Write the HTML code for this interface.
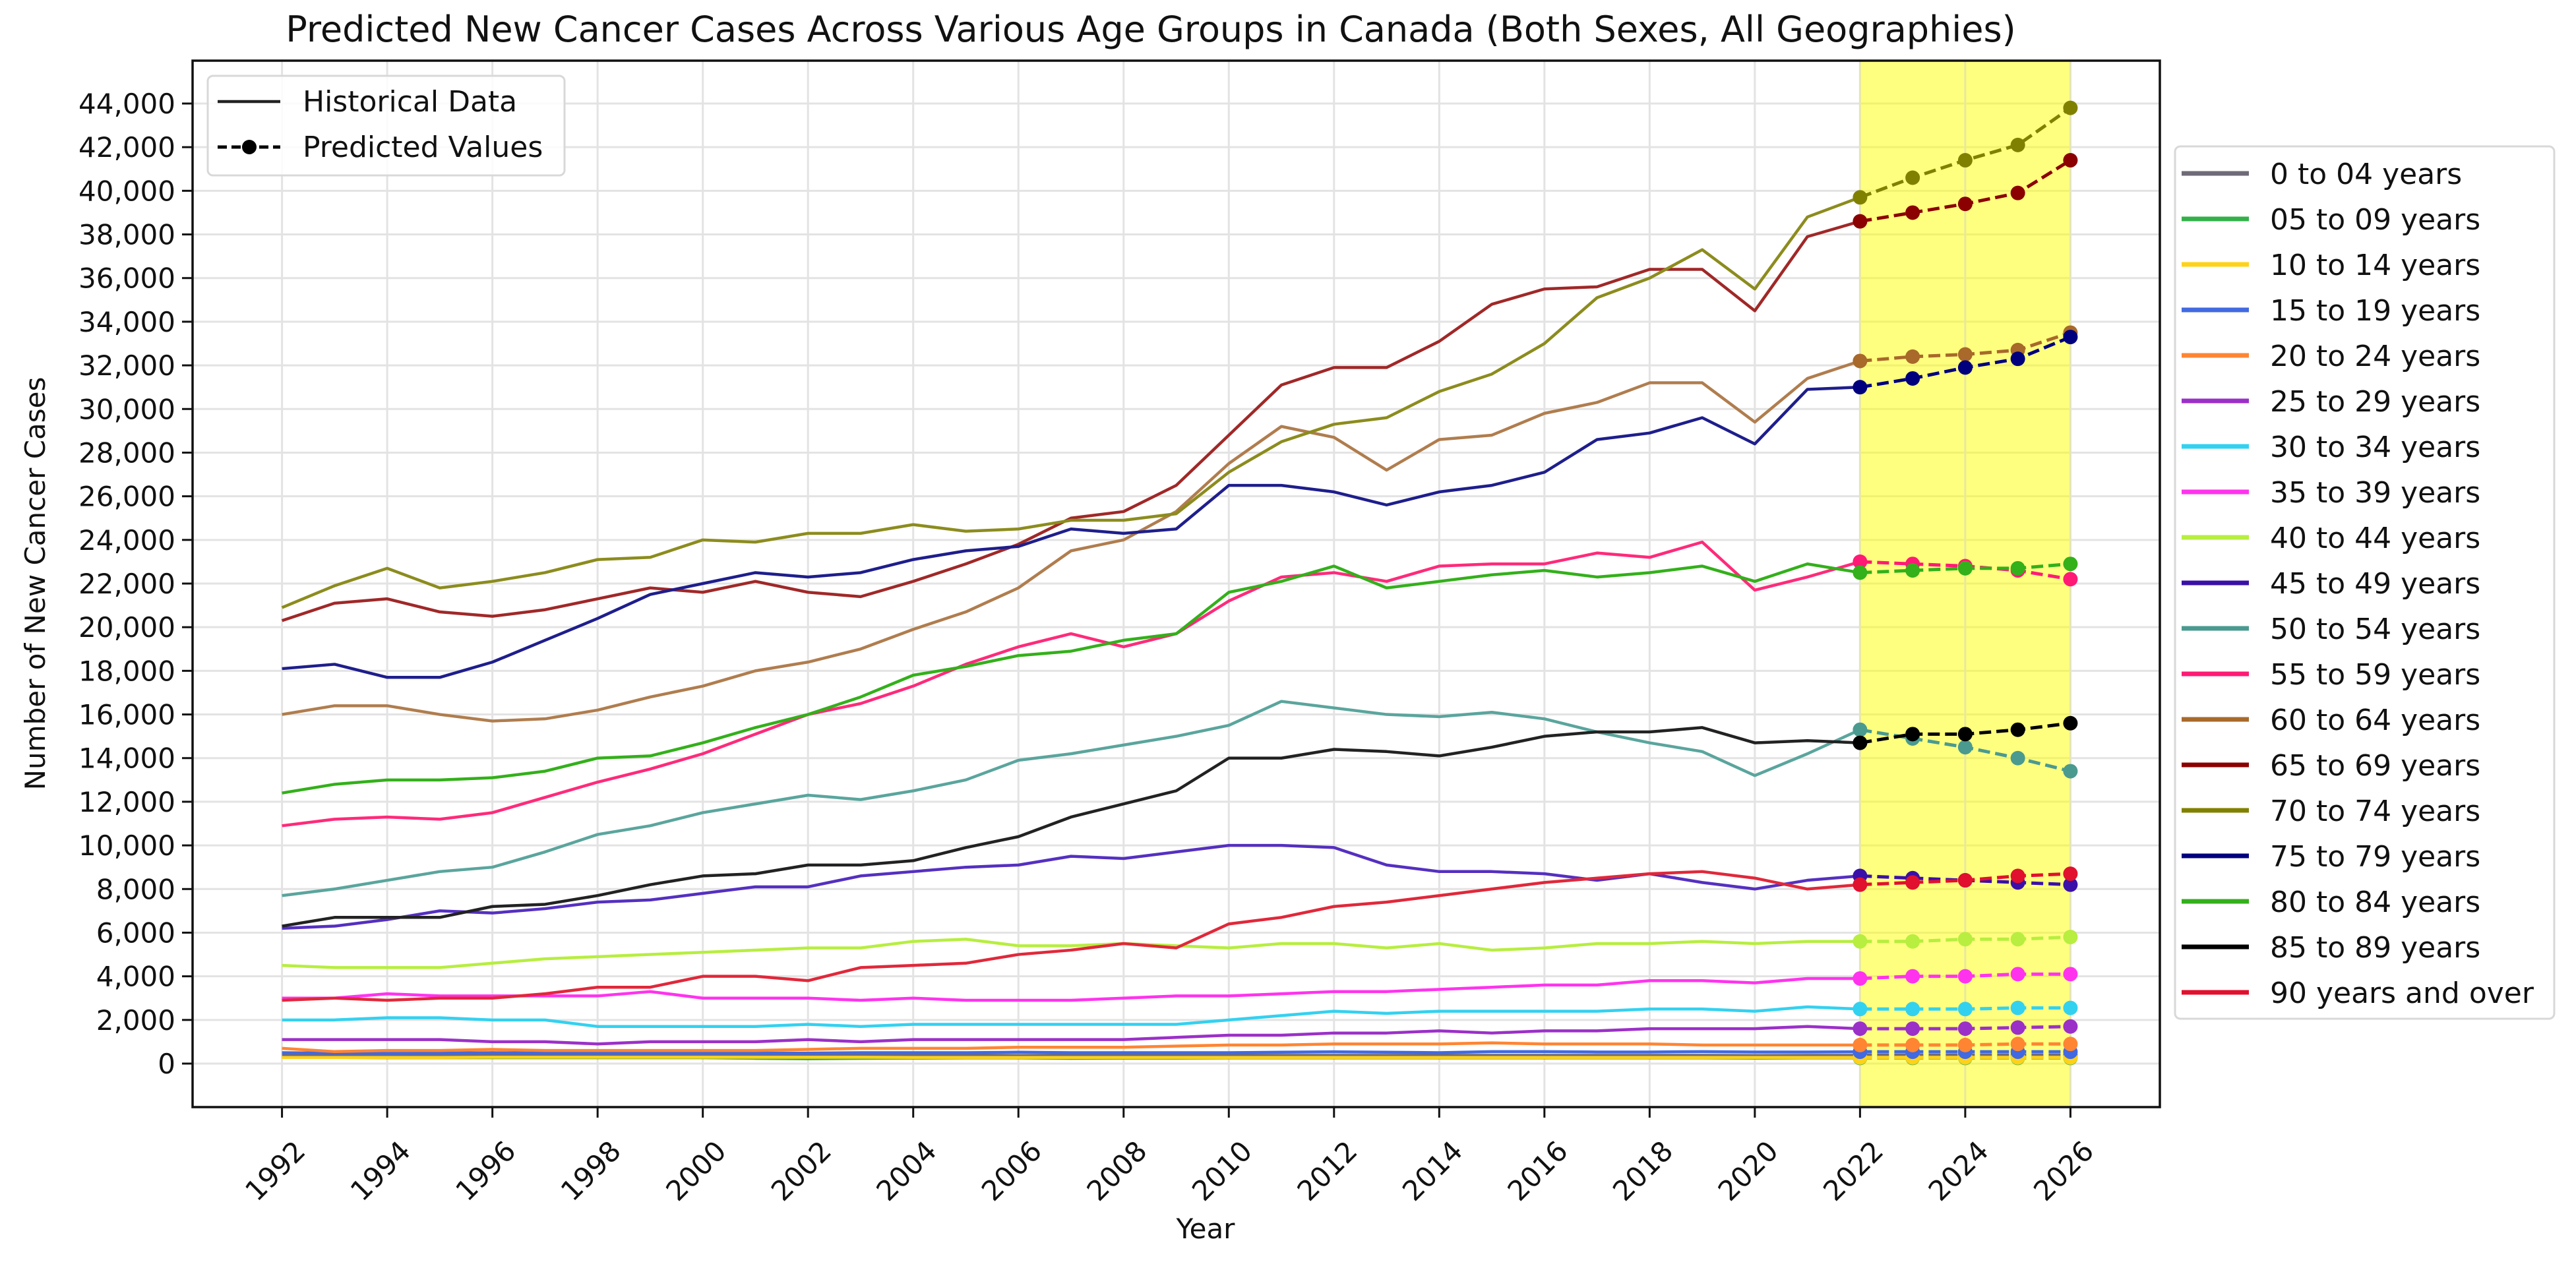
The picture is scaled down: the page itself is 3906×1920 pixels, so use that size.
<!DOCTYPE html>
<html><head><meta charset="utf-8"><style>
html,body{margin:0;padding:0;background:#fff;}
svg{display:block;font-family:"DejaVu Sans","Liberation Sans",sans-serif;}
</style></head><body>
<svg id="chart" width="3906" height="1920" viewBox="0 0 3906 1920" xmlns="http://www.w3.org/2000/svg">
<rect x="0" y="0" width="3906" height="1920" fill="#fff"/>
<text x="1745" y="63" font-size="54" text-anchor="middle" fill="#111">Predicted New Cancer Cases Across Various Age Groups in Canada (Both Sexes, All Geographies)</text>
<g id="grid"></g>
<g id="band"></g>
<g id="series"></g>
<g id="axes"></g>
<g id="legend1"></g>
<g id="legend2"></g>
</svg>
<script>
const years = [1992,1993,1994,1995,1996,1997,1998,1999,2000,2001,2002,2003,2004,2005,2006,2007,2008,2009,2010,2011,2012,2013,2014,2015,2016,2017,2018,2019,2020,2021,2022,2023,2024,2025,2026];
const seriesNames = ["0 to 04 years","05 to 09 years","10 to 14 years","15 to 19 years","20 to 24 years","25 to 29 years","30 to 34 years","35 to 39 years","40 to 44 years","45 to 49 years","50 to 54 years","55 to 59 years","60 to 64 years","65 to 69 years","70 to 74 years","75 to 79 years","80 to 84 years","85 to 89 years","90 years and over"];
const yTicks = [0,2000,4000,6000,8000,10000,12000,14000,16000,18000,20000,22000,24000,26000,28000,30000,32000,34000,36000,38000,40000,42000,44000];
const xTicks = [1992,1994,1996,1998,2000,2002,2004,2006,2008,2010,2012,2014,2016,2018,2020,2022,2024,2026];
// values in thousands, 1992..2026 (2022..2026 predicted)
const v00 = [0.38,0.37,0.36,0.36,0.37,0.37,0.36,0.36,0.36,0.36,0.37,0.37,0.37,0.37,0.37,0.37,0.37,0.37,0.38,0.38,0.38,0.38,0.38,0.38,0.38,0.38,0.38,0.38,0.37,0.38,0.38,0.38,0.38,0.38,0.38];
const v05 = [0.28,0.28,0.27,0.27,0.27,0.27,0.27,0.27,0.27,0.24,0.22,0.24,0.25,0.26,0.26,0.24,0.25,0.25,0.26,0.26,0.26,0.26,0.26,0.26,0.26,0.26,0.26,0.26,0.25,0.26,0.26,0.26,0.26,0.26,0.26];
const v10 = [0.28,0.28,0.28,0.28,0.29,0.29,0.29,0.29,0.29,0.29,0.29,0.29,0.28,0.28,0.28,0.28,0.28,0.28,0.28,0.28,0.28,0.28,0.28,0.28,0.28,0.28,0.28,0.28,0.28,0.28,0.28,0.28,0.28,0.28,0.28];
const v15 = [0.5,0.48,0.47,0.48,0.5,0.48,0.48,0.48,0.48,0.48,0.48,0.5,0.5,0.5,0.52,0.5,0.5,0.5,0.5,0.52,0.54,0.52,0.5,0.55,0.55,0.53,0.53,0.55,0.53,0.53,0.54,0.54,0.54,0.54,0.54];
const v20 = [0.7,0.55,0.6,0.6,0.65,0.6,0.6,0.6,0.6,0.6,0.65,0.7,0.7,0.7,0.75,0.75,0.75,0.8,0.85,0.85,0.9,0.9,0.9,0.95,0.9,0.9,0.9,0.85,0.85,0.85,0.85,0.85,0.85,0.9,0.9];
const v25 = [1.1,1.1,1.1,1.1,1.0,1.0,0.9,1.0,1.0,1.0,1.1,1.0,1.1,1.1,1.1,1.1,1.1,1.2,1.3,1.3,1.4,1.4,1.5,1.4,1.5,1.5,1.6,1.6,1.6,1.7,1.6,1.6,1.6,1.65,1.7];
const v30 = [2.0,2.0,2.1,2.1,2.0,2.0,1.7,1.7,1.7,1.7,1.8,1.7,1.8,1.8,1.8,1.8,1.8,1.8,2.0,2.2,2.4,2.3,2.4,2.4,2.4,2.4,2.5,2.5,2.4,2.6,2.5,2.5,2.5,2.55,2.55];
const v35 = [3.0,3.0,3.2,3.1,3.1,3.1,3.1,3.3,3.0,3.0,3.0,2.9,3.0,2.9,2.9,2.9,3.0,3.1,3.1,3.2,3.3,3.3,3.4,3.5,3.6,3.6,3.8,3.8,3.7,3.9,3.9,4.0,4.0,4.1,4.1];
const v40 = [4.5,4.4,4.4,4.4,4.6,4.8,4.9,5.0,5.1,5.2,5.3,5.3,5.6,5.7,5.4,5.4,5.5,5.4,5.3,5.5,5.5,5.3,5.5,5.2,5.3,5.5,5.5,5.6,5.5,5.6,5.6,5.6,5.7,5.7,5.8];
const v45 = [6.2,6.3,6.6,7.0,6.9,7.1,7.4,7.5,7.8,8.1,8.1,8.6,8.8,9.0,9.1,9.5,9.4,9.7,10.0,10.0,9.9,9.1,8.8,8.8,8.7,8.4,8.7,8.3,8.0,8.4,8.6,8.5,8.4,8.3,8.2];
const v50 = [7.7,8.0,8.4,8.8,9.0,9.7,10.5,10.9,11.5,11.9,12.3,12.1,12.5,13.0,13.9,14.2,14.6,15.0,15.5,16.6,16.3,16.0,15.9,16.1,15.8,15.2,14.7,14.3,13.2,14.2,15.3,14.9,14.5,14.0,13.4];
const v55 = [10.9,11.2,11.3,11.2,11.5,12.2,12.9,13.5,14.2,15.1,16.0,16.5,17.3,18.3,19.1,19.7,19.1,19.7,21.2,22.3,22.5,22.1,22.8,22.9,22.9,23.4,23.2,23.9,21.7,22.3,23.0,22.9,22.8,22.6,22.2];
const v60 = [16.0,16.4,16.4,16.0,15.7,15.8,16.2,16.8,17.3,18.0,18.4,19.0,19.9,20.7,21.8,23.5,24.0,25.3,27.5,29.2,28.7,27.2,28.6,28.8,29.8,30.3,31.2,31.2,29.4,31.4,32.2,32.4,32.5,32.7,33.5];
const v65 = [20.3,21.1,21.3,20.7,20.5,20.8,21.3,21.8,21.6,22.1,21.6,21.4,22.1,22.9,23.8,25.0,25.3,26.5,28.8,31.1,31.9,31.9,33.1,34.8,35.5,35.6,36.4,36.4,34.5,37.9,38.6,39.0,39.4,39.9,41.4];
const v70 = [20.9,21.9,22.7,21.8,22.1,22.5,23.1,23.2,24.0,23.9,24.3,24.3,24.7,24.4,24.5,24.9,24.9,25.2,27.1,28.5,29.3,29.6,30.8,31.6,33.0,35.1,36.0,37.3,35.5,38.8,39.7,40.6,41.4,42.1,43.8];
const v75 = [18.1,18.3,17.7,17.7,18.4,19.4,20.4,21.5,22.0,22.5,22.3,22.5,23.1,23.5,23.7,24.5,24.3,24.5,26.5,26.5,26.2,25.6,26.2,26.5,27.1,28.6,28.9,29.6,28.4,30.9,31.0,31.4,31.9,32.3,33.3];
const v80 = [12.4,12.8,13.0,13.0,13.1,13.4,14.0,14.1,14.7,15.4,16.0,16.8,17.8,18.2,18.7,18.9,19.4,19.7,21.6,22.1,22.8,21.8,22.1,22.4,22.6,22.3,22.5,22.8,22.1,22.9,22.5,22.6,22.7,22.7,22.9];
const v85 = [6.3,6.7,6.7,6.7,7.2,7.3,7.7,8.2,8.6,8.7,9.1,9.1,9.3,9.9,10.4,11.3,11.9,12.5,14.0,14.0,14.4,14.3,14.1,14.5,15.0,15.2,15.2,15.4,14.7,14.8,14.7,15.1,15.1,15.3,15.6];
const v90 = [2.9,3.0,2.9,3.0,3.0,3.2,3.5,3.5,4.0,4.0,3.8,4.4,4.5,4.6,5.0,5.2,5.5,5.3,6.4,6.7,7.2,7.4,7.7,8.0,8.3,8.5,8.7,8.8,8.5,8.0,8.2,8.3,8.4,8.6,8.7];
const allValues = [v00,v05,v10,v15,v20,v25,v30,v35,v40,v45,v50,v55,v60,v65,v70,v75,v80,v85,v90];
const predStart = 2022;

const colors = ["#6f6a78","#33b04a","#ffd21a","#4169e1","#ff8533","#9b30c8","#33d1f0","#ff33ee","#b7ee3f","#3a10a8","#4a9a90","#ff1a75","#a8692a","#8b0000","#808000","#00007f","#33b01a","#000000","#e0102e"];
const lineColors = ["#6f6a78","#33b04a","#ffd21a","#4169e1","#ff8533","#9b30c8","#33d1f0","#ff33ee","#b7ee3f","#5530c0","#5aa59d","#ff2a7a","#b07d4e","#a02828","#8c8c1e","#1e1e8c","#33b01a","#222222","#e0283a"];

const NS = "http://www.w3.org/2000/svg";
const L = 292, R = 3275, T = 92, B = 1679;
const X0 = 1990.3, X1 = 2027.7, Y0 = -1994, Y1 = 45964;
function xs(v){ return L + (v - X0) / (X1 - X0) * (R - L); }
function ys(v){ return B - (v - Y0) / (Y1 - Y0) * (B - T); }
function mk(tag, attrs, parent){ const e = document.createElementNS(NS, tag); for (const k in attrs) e.setAttribute(k, attrs[k]); parent.appendChild(e); return e; }

const grid = document.getElementById('grid');
yTicks.forEach(t => {
  const g = mk('line', {x1:L, x2:R, y1:ys(t), y2:ys(t), stroke:'#e3e3e3', 'stroke-width':3}, grid);
  
  
});
xTicks.forEach(t => {
  const g = mk('line', {x1:xs(t), x2:xs(t), y1:T, y2:B, stroke:'#e3e3e3', 'stroke-width':3}, grid);
  
  
});

const band = document.getElementById('band');
const bandRect = mk('rect', {x:xs(2022), y:T, width:xs(2026)-xs(2022), height:B-T, fill:'#ffff00', 'fill-opacity':0.5}, band);


xTicks.filter(t => t >= 2022 && t <= 2026).forEach(t => {
  mk('line', {x1:xs(t), x2:xs(t), y1:T, y2:B, stroke:'#e3e3c0', 'stroke-width':3, 'stroke-opacity':0.6}, band);
});

const sg = document.getElementById('series');
const pIdx = years.indexOf(predStart);
allValues.forEach((vals, i) => {
  const g = mk('g', {}, sg);
  
  
  const hist = vals.slice(0, pIdx + 1).map((v, j) => xs(years[j]) + ',' + ys(v * 1000)).join(' ');
  const hl = mk('polyline', {points:hist, fill:'none', stroke:lineColors[i], 'stroke-width':4.5, 'stroke-linejoin':'round'}, g);
  
  
  const pred = vals.slice(pIdx).map((v, j) => xs(years[pIdx + j]) + ',' + ys(v * 1000)).join(' ');
  const pl = mk('polyline', {points:pred, fill:'none', stroke:colors[i], 'stroke-width':5, 'stroke-dasharray':'18 8'}, g);
  
  
  vals.slice(pIdx).forEach((v, j) => {
    const c = mk('circle', {cx:xs(years[pIdx + j]), cy:ys(v * 1000), r:11, fill:colors[i]}, g);
    
    
  });
});

const ax = document.getElementById('axes');
const frame = mk('rect', {x:L, y:T, width:R-L, height:B-T, fill:'none', stroke:'#111', 'stroke-width':3.5}, ax);


yTicks.forEach(t => {
  mk('line', {x1:L-16, x2:L, y1:ys(t), y2:ys(t), stroke:'#111', 'stroke-width':3}, ax);
  const tx = mk('text', {x:L-26, y:ys(t)+15, 'font-size':42, 'text-anchor':'end', fill:'#111'}, ax);
  tx.textContent = t.toLocaleString('en-US');
  
  
});
xTicks.forEach(t => {
  mk('line', {x1:xs(t), x2:xs(t), y1:B, y2:B+16, stroke:'#111', 'stroke-width':3}, ax);
  const tx = mk('text', {x:0, y:0, 'font-size':42, 'text-anchor':'middle', fill:'#111', transform:'translate(' + xs(t) + ',1786) rotate(-45)'}, ax);
  tx.textContent = String(t);
  
  
});
const xl = mk('text', {x:1828, y:1878, 'font-size':42, 'text-anchor':'middle', fill:'#111'}, ax);
xl.textContent = 'Year';


const yl = mk('text', {x:0, y:0, 'font-size':42, 'text-anchor':'middle', fill:'#111', transform:'translate(68,885) rotate(-90)'}, ax);
yl.textContent = 'Number of New Cancer Cases';



const l1 = document.getElementById('legend1');
const lb1 = mk('rect', {x:315, y:115, width:541, height:151, rx:8, fill:'#fff', 'fill-opacity':0.85, stroke:'#d8d8d8', 'stroke-width':3}, l1);


mk('line', {x1:330, x2:425, y1:154, y2:154, stroke:'#222', 'stroke-width':4.5}, l1);
const lt1 = mk('text', {x:459, y:169, 'font-size':44, fill:'#111'}, l1);
lt1.textContent = 'Historical Data';


mk('line', {x1:330, x2:425, y1:223, y2:223, stroke:'#000', 'stroke-width':5, 'stroke-dasharray':'14 7'}, l1);
mk('circle', {cx:378, cy:223, r:11, fill:'#000'}, l1);
const lt2 = mk('text', {x:459, y:238, 'font-size':44, fill:'#111'}, l1);
lt2.textContent = 'Predicted Values';



const l2 = document.getElementById('legend2');
const lb2 = mk('rect', {x:3298, y:222, width:575, height:1323, rx:8, fill:'#fff', stroke:'#d8d8d8', 'stroke-width':3}, l2);


seriesNames.forEach((n, i) => {
  const y = 263 + i * 69;
  const g = mk('g', {}, l2);
  
  
  mk('line', {x1:3308, x2:3410, y1:y, y2:y, stroke:colors[i], 'stroke-width':7}, g);
  const t = mk('text', {x:3442, y:y+16, 'font-size':44, fill:'#111'}, g);
  t.textContent = n;
});
</script>
</body></html>
